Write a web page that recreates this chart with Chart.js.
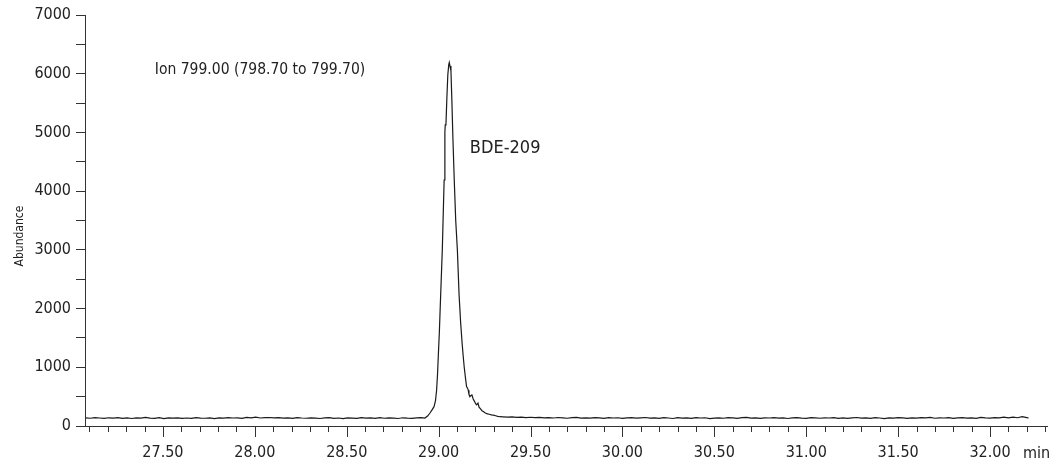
<!DOCTYPE html>
<html>
<head>
<meta charset="utf-8">
<script src="https://cdn.jsdelivr.net/npm/chart.js@4/dist/chart.umd.min.js"></script>
<style>
  html, body { margin: 0; padding: 0; overflow: hidden; background: #fff; }
  #wrap { width: 1051px; height: 466px; position: relative; }
</style>
</head>
<body>
<div id="wrap"><canvas id="chromChart"></canvas></div>
<script>
// Retention time (min) and abundance
const times = [
  27.080, 27.105, 27.130, 27.155, 27.180, 27.205, 27.230, 27.255, 27.280, 27.305,
  27.330, 27.355, 27.380, 27.405, 27.430, 27.455, 27.480, 27.505, 27.530, 27.555,
  27.580, 27.605, 27.630, 27.655, 27.680, 27.705, 27.730, 27.755, 27.780, 27.805,
  27.830, 27.855, 27.880, 27.905, 27.930, 27.955, 27.980, 28.005, 28.030, 28.055,
  28.080, 28.105, 28.130, 28.155, 28.180, 28.205, 28.230, 28.255, 28.280, 28.305,
  28.330, 28.355, 28.380, 28.405, 28.430, 28.455, 28.480, 28.505, 28.530, 28.555,
  28.580, 28.605, 28.630, 28.655, 28.680, 28.705, 28.730, 28.755, 28.780, 28.805,
  28.830, 28.855, 28.880, 28.905,
  // peak
  28.925, 28.940, 28.953, 28.965, 28.975, 28.983, 28.989, 28.994, 28.999, 29.004,
  29.009, 29.014, 29.020, 29.025, 29.030, 29.034, 29.036, 29.040, 29.045, 29.050,
  29.055, 29.058, 29.062, 29.067, 29.072, 29.078, 29.085, 29.093, 29.102, 29.111,
  29.120, 29.128, 29.134, 29.139, 29.146, 29.152, 29.158, 29.161, 29.165, 29.170,
  29.176, 29.181, 29.188, 29.195, 29.201, 29.207, 29.214, 29.220, 29.228, 29.236,
  29.243, 29.252, 29.262, 29.275, 29.287, 29.298, 29.310, 29.322, 29.334,
  // tail / baseline
  29.350, 29.375, 29.400, 29.425, 29.450, 29.475, 29.500, 29.525, 29.550, 29.575,
  29.600, 29.625, 29.650, 29.675, 29.700, 29.725, 29.750, 29.775, 29.800, 29.825,
  29.850, 29.875, 29.900, 29.925, 29.950, 29.975, 30.000, 30.025, 30.050, 30.075,
  30.100, 30.125, 30.150, 30.175, 30.200, 30.225, 30.250, 30.275, 30.300, 30.325,
  30.350, 30.375, 30.400, 30.425, 30.450, 30.475, 30.500, 30.525, 30.550, 30.575,
  30.600, 30.625, 30.650, 30.675, 30.700, 30.725, 30.750, 30.775, 30.800, 30.825,
  30.850, 30.875, 30.900, 30.925, 30.950, 30.975, 31.000, 31.025, 31.050, 31.075,
  31.100, 31.125, 31.150, 31.175, 31.200, 31.225, 31.250, 31.275, 31.300, 31.325,
  31.350, 31.375, 31.400, 31.425, 31.450, 31.475, 31.500, 31.525, 31.550, 31.575,
  31.600, 31.625, 31.650, 31.675, 31.700, 31.725, 31.750, 31.775, 31.800, 31.825,
  31.850, 31.875, 31.900, 31.925, 31.950, 31.975, 32.000, 32.025, 32.050, 32.075,
  32.100, 32.125, 32.150, 32.175, 32.200, 32.210
];

const abundance = [
  138, 132, 141, 136, 129, 140, 134, 143, 131, 137,
  128, 139, 133, 146, 135, 130, 142, 127, 138, 134,
  140, 131, 136, 129, 143, 135, 132, 138, 126, 137,
  133, 144, 136, 139, 131, 147, 138, 150, 136, 142,
  145, 137, 141, 134, 139, 130, 143, 136, 132, 140,
  135, 128, 137, 142, 131, 136, 127, 139, 134, 130,
  141, 133, 137, 129, 144, 132, 138, 135, 128, 140,
  134, 131, 139, 142,
  // peak
  136, 170, 221, 280, 329, 430, 613, 880, 1250, 1600,
  2050, 2480, 3000, 3600, 4190, 5000, 5130, 5150, 5600, 5980,
  6150, 6190, 6130, 6050, 5550, 4870, 4190, 3500, 3000, 2250,
  1750, 1400, 1180, 1010, 820, 670, 640, 610, 540, 500,
  520, 530, 460, 420, 380, 360, 390, 320, 290, 260,
  245, 225, 210, 200, 190, 185, 175, 165, 158,
  // tail / baseline
  155, 150, 156, 148, 152, 144, 149, 141, 146, 139,
  143, 136, 145, 138, 132, 141, 147, 135, 140, 133,
  142, 137, 131, 144, 136, 140, 129, 138, 143, 134,
  139, 145, 133, 137, 130, 142, 136, 128, 141, 135,
  138, 131, 144, 136, 140, 127, 135, 139, 132, 143,
  137, 129, 141, 146, 134, 138, 131, 140, 136, 142,
  133, 139, 128, 137, 144, 135, 130, 141, 138, 132,
  140, 136, 143, 131, 137, 129, 139, 145, 134, 138,
  130, 141, 136, 127, 139, 133, 142, 137, 131, 140,
  135, 143, 138, 146, 132, 139, 136, 141, 129, 137,
  144, 134, 140, 131, 147, 138, 135, 142, 137, 150,
  139, 152, 141, 158, 143, 136
];

const xRange = [27.076, 32.31];   // min
const yRange = [0, 7000];
const yStep = 500;
const xStep = 0.1;

const ionLabel = 'Ion 799.00 (798.70 to 799.70)';
const ionLabelAt = [27.456, 5990];
const peakLabel = 'BDE-209';
const peakLabelAt = [29.170, 4655];

const fontFamily = '"DejaVu Sans Condensed", "Liberation Sans Narrow", sans-serif';
const ink = '#222';
const axisColor = '#333';

const points = times.map((t, i) => ({ x: t, y: abundance[i] }));

function isHalfMinute(v) {
  return Math.abs(v * 2 - Math.round(v * 2)) < 1e-6;
}

// minor/major tick marks on the time axis, text labels
const chromDecor = {
  id: 'chromDecor',
  afterDraw(chart) {
    const { ctx, chartArea, scales: { x, y } } = chart;
    ctx.save();
    ctx.strokeStyle = axisColor;
    ctx.lineWidth = 1;
    x.ticks.forEach(t => {
      const px = Math.round(x.getPixelForValue(t.value)) + 0.5;
      const len = isHalfMinute(t.value) ? 11 : 6;
      ctx.beginPath();
      ctx.moveTo(px, chartArea.bottom);
      ctx.lineTo(px, chartArea.bottom + len);
      ctx.stroke();
    });

    ctx.fillStyle = ink;
    ctx.textBaseline = 'alphabetic';
    ctx.textAlign = 'left';
    ctx.font = '15.5px ' + fontFamily;
    ctx.fillText(ionLabel, x.getPixelForValue(ionLabelAt[0]), y.getPixelForValue(ionLabelAt[1]));
    ctx.font = '18px ' + fontFamily;
    ctx.fillText(peakLabel, x.getPixelForValue(peakLabelAt[0]), y.getPixelForValue(peakLabelAt[1]));

    ctx.font = '16px ' + fontFamily;
    ctx.fillText('min', chartArea.right - 24, chartArea.bottom + 32);

    // y axis title
    ctx.font = '12px ' + fontFamily;
    ctx.textAlign = 'center';
    ctx.translate(23, 236);
    ctx.rotate(-Math.PI / 2);
    ctx.fillText('Abundance', 0, 0);
    ctx.restore();
  }
};

const ctx = document.getElementById('chromChart').getContext('2d');

const chart = new Chart(ctx, {
  type: 'line',
  data: {
    datasets: [{
      data: points,
      borderColor: '#1a1a1a',
      borderWidth: 1.2,
      pointRadius: 0,
      tension: 0,
      fill: false
    }]
  },
  options: {
    responsive: true,
    maintainAspectRatio: false,
    animation: false,
    layout: { autoPadding: false, padding: { top: 15, right: 4, left: 0, bottom: 0 } },
    plugins: {
      legend: { display: false },
      tooltip: { enabled: false }
    },
    scales: {
      x: {
        type: 'linear',
        min: xRange[0],
        max: xRange[1],
        afterFit: (scale) => {
          scale.height = 40;
          scale.paddingLeft = 0;
          scale.paddingRight = 0;
        },
        grid: { display: false, drawTicks: false },
        border: { display: true, color: axisColor, width: 1 },
        ticks: {
          stepSize: xStep,
          includeBounds: false,
          autoSkip: false,
          maxRotation: 0,
          padding: 17,
          color: ink,
          font: { family: fontFamily, size: 16 },
          callback: (v) => isHalfMinute(v) ? v.toFixed(2) : ''
        }
      },
      y: {
        min: yRange[0],
        max: yRange[1],
        afterFit: (scale) => { scale.width = 85; },
        grid: { drawOnChartArea: false, drawTicks: true, tickLength: 9, color: axisColor },
        border: { display: true, color: axisColor, width: 1 },
        ticks: {
          stepSize: yStep,
          padding: 5,
          color: ink,
          font: { family: fontFamily, size: 16 },
          callback: (v) => v % 1000 === 0 ? v : ''
        }
      }
    }
  },
  plugins: [chromDecor]
});
</script>
</body>
</html>
